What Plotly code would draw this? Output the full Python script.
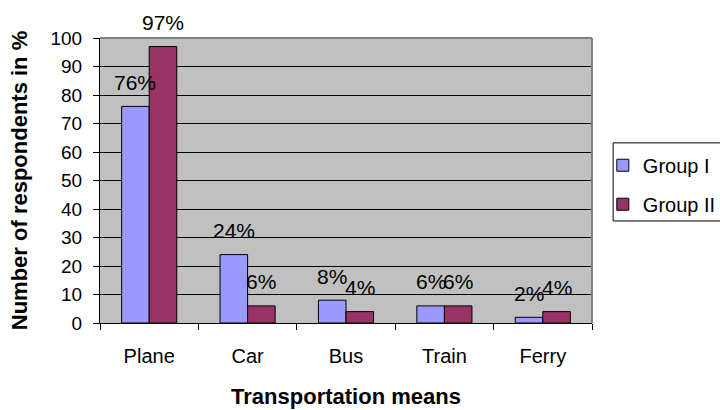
import plotly.graph_objects as go

# Survey results: share of respondents using each means of transport
categories = ["Plane", "Car", "Bus", "Train", "Ferry"]
group_1 = [76, 24, 8, 6, 2]
group_2 = [97, 6, 4, 6, 4]
series_names = ["Group I", "Group II"]
y_ticks = list(range(0, 101, 10))

FONT = "Liberation Sans, Arial, sans-serif"
colors = ["#9999FF", "#993366"]

fig = go.Figure()
for name, vals, col, grp in zip(series_names, [group_1, group_2], colors, ["g1", "g2"]):
    fig.add_trace(go.Bar(
        x=categories, y=vals, name=name, legendgroup=grp,
        marker=dict(color=col, line=dict(color="black", width=1)),
    ))

# Percentage labels above each bar
bargap = 0.44
half = (1 - bargap) / 4
for offset, vals in zip([-half, half], [group_1, group_2]):
    for i, v in enumerate(vals):
        fig.add_annotation(
            x=i + offset, y=v, xref="x", yref="y",
            text=f"{v}%", showarrow=False, yanchor="middle", yshift=24,
            font=dict(family=FONT, size=21, color="black"),
        )

# Grey frame on the top and right edges of the plot area
fig.add_shape(type="line", xref="paper", yref="paper", x0=0, x1=1, y0=1, y1=1,
              line=dict(color="#808080", width=2), layer="above")
fig.add_shape(type="line", xref="paper", yref="paper", x0=1, x1=1, y0=0, y1=1,
              line=dict(color="#808080", width=2), layer="above")
# Legend frame, running off the right edge of the page
fig.add_shape(type="rect", xref="paper", yref="paper", x0=1.043, x1=1.3, y0=0.358, y1=0.632,
              line=dict(color="black", width=1), fillcolor="white", layer="below")

fig.update_layout(
    width=720, height=410,
    margin=dict(l=100, r=128, t=38, b=87, autoexpand=False),
    paper_bgcolor="white", plot_bgcolor="#C0C0C0",
    barmode="group", bargap=bargap, bargroupgap=0,
    font=dict(family=FONT, size=19, color="black"),
    legend=dict(
        x=1.022, y=0.622, xanchor="left", yanchor="top",
        borderwidth=0, bgcolor="rgba(0,0,0,0)",
        font=dict(family=FONT, size=20, color="black"),
        traceorder="grouped", tracegroupgap=10,
    ),
    xaxis=dict(
        showline=True, linecolor="black", linewidth=1,
        ticks="outside", tickson="boundaries", ticklen=6, tickcolor="black",
        showgrid=False, ticklabelstandoff=15,
        tickfont=dict(family=FONT, size=20),
        title=dict(text="<b>Transportation means</b>", standoff=22,
                   font=dict(family=FONT, size=22)),
    ),
    yaxis=dict(
        range=[0, 100], tickvals=y_ticks,
        showline=True, linecolor="black", linewidth=1,
        ticks="outside", ticklen=6, tickcolor="black",
        showgrid=True, gridcolor="black", gridwidth=1,
        zeroline=False, ticklabelstandoff=7,
        tickfont=dict(family=FONT, size=19),
        title=dict(text="<b>Number of respondents in %</b>", standoff=16,
                   font=dict(family=FONT, size=22)),
    ),
)

fig.write_html("out.html")
